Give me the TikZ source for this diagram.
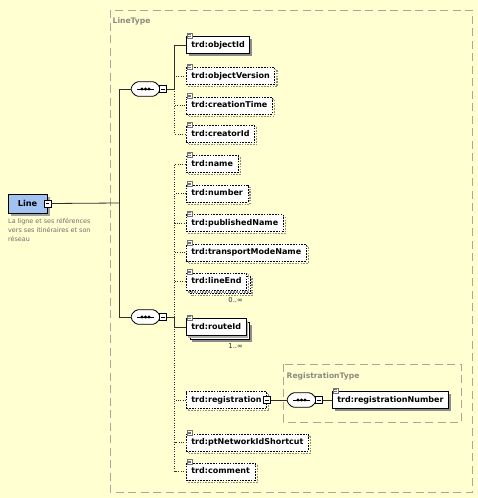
\documentclass[tikz,border=0pt]{standalone}
\usepackage{fontspec}
\setmainfont{DejaVu Sans}
\usetikzlibrary{calc,shadows}
\definecolor{bg}{HTML}{FFFFD2}
\definecolor{grpline}{HTML}{A8A894}
\definecolor{grptext}{HTML}{8A8A80}
\definecolor{lineblue}{HTML}{A2C2F2}
\definecolor{wire}{HTML}{2E2E2E}
\definecolor{shade}{HTML}{8C8C8C}
\definecolor{desc}{HTML}{6E6E68}

\begin{document}
\begin{tikzpicture}[x=1pt,y=-1pt,
  every node/.style={inner sep=0pt},
  elemfont/.style={font=\fontsize{8}{9}\selectfont\bfseries},
  elem/.style={elemfont, draw=black, fill=white, line width=0.8pt, anchor=west,
    minimum height=17pt, inner xsep=5pt, text height=6pt, text depth=1.6pt},
  optdash/.style={dash pattern=on 1.6pt off 1.2pt},
  reqelem/.style={elem,
    general shadow={shadow xshift=2.5pt, shadow yshift=-2.5pt, fill=shade, draw=none}},
  optelem/.style={elem, optdash,
    general shadow={shadow xshift=2.2pt, shadow yshift=-2.2pt, fill=none, draw=shade,
      line width=1.3pt, dash pattern=on 1.6pt off 1.2pt}},
  multopt/.style={elem, optdash,
    general shadow={shadow xshift=5.5pt, shadow yshift=-5.5pt, fill=none, draw=shade,
      line width=1.3pt, dash pattern=on 1.6pt off 1.2pt},
    general shadow={shadow xshift=3.5pt, shadow yshift=-3.5pt, fill=white, draw=black,
      line width=0.8pt, dash pattern=on 1.6pt off 1.2pt},
    general shadow={shadow xshift=2pt, shadow yshift=-2pt, fill=none, draw=shade,
      line width=1.2pt, dash pattern=on 1.6pt off 1.2pt}},
  multreq/.style={elem,
    general shadow={shadow xshift=6pt, shadow yshift=-6pt, fill=shade, draw=none},
    general shadow={shadow xshift=3.5pt, shadow yshift=-3.5pt, fill=white, draw=black,
      line width=0.8pt},
    general shadow={shadow xshift=2pt, shadow yshift=-2pt, fill=shade!70, draw=none}},
  comp/.style={minimum width=28pt, minimum height=14pt},
  expander/.style={draw=black, fill=white, line width=0.6pt, minimum size=7pt,
    path picture={\draw[line width=0.7pt] ([xshift=1.6pt]path picture bounding box.west)
      -- ([xshift=-1.6pt]path picture bounding box.east);}},
  wireline/.style={draw=wire, line width=0.8pt},
  optwire/.style={draw=wire, line width=0.8pt, dash pattern=on 1pt off 1.4pt},
  group/.style={draw=grpline, line width=0.9pt, dash pattern=on 8pt off 4.5pt},
  grouplabel/.style={text=grptext, font=\fontsize{7.6}{9}\selectfont\bfseries, anchor=west},
  occurs/.style={font=\fontsize{6.8}{8}\selectfont, text=black!80},
  icon/.style={draw=black!55, fill=white, line width=0.4pt}
]
\useasboundingbox (0,0) rectangle (478,498);
\fill[bg] (0,0) rectangle (478,498);

% complex type groups
\draw[group] (110,10) rectangle (472,492);
\node[grouplabel] (lineTypeLabel) at (112.5,21) {LineType};
\draw[group] (283,364) rectangle (461,422);
\node[grouplabel] (regTypeLabel) at (286.5,376) {RegistrationType};

% root element
\node[draw=black, fill=lineblue, line width=0.9pt, minimum width=39pt, minimum height=19pt,
  font=\fontsize{8.2}{9}\selectfont\bfseries,
  general shadow={shadow xshift=3pt, shadow yshift=-3pt, fill=shade!80, draw=none}]
  (line) at (27.5,203.5) {Line};
\node[expander] (linex) at (line.east) {};
\node[anchor=north west, align=left, text=desc, font=\fontsize{6.4}{9}\selectfont]
  (linedesc) at (8,218.5) {La ligne et ses références\\vers ses itinéraires et son\\réseau};

% sequence compositors
\node[comp] (seqA) at (145.5,89) {};
\node[comp] (seqB) at (145.5,317) {};
\node[comp] (seqC) at (301.5,400) {};

% child elements
\node[reqelem] (objectId) at (186,45) {trd:objectId};
\node[optelem] (objectVersion) at (186,76) {trd:objectVersion};
\node[optelem] (creationTime) at (186,105.5) {trd:creationTime};
\node[optelem] (creatorId) at (186,134) {trd:creatorId};
\node[optelem] (name) at (186,164) {trd:name};
\node[optelem] (number) at (186,193.5) {trd:number};
\node[optelem] (publishedName) at (186,223) {trd:publishedName};
\node[optelem] (transportModeName) at (186,252.5) {trd:transportModeName};
\node[multopt] (lineEnd) at (186,281.5) {trd:lineEnd};
\node[multreq] (routeId) at (186,327) {trd:routeId};
\node[optelem] (registration) at (186,400) {trd:registration};
\node[optelem] (ptNetworkIdShortcut) at (186,442.5) {trd:ptNetworkIdShortcut};
\node[optelem] (comment) at (186,471.5) {trd:comment};
\node[reqelem] (registrationNumber) at (332,400) {trd:registrationNumber};

\node[occurs, anchor=north east] (lineEndOcc) at (243,297.5) {0..∞};
\node[occurs, anchor=north east] (routeIdOcc) at (243,343) {1..∞};

% compositor bodies: chamfered capsule with the sequence dots
\foreach \cn in {seqA,seqB,seqC} {
  \begin{scope}[shift={(1.6,1.6)}]
    \fill[shade!85, rounded corners=1.5pt]
      ($(\cn.west)+(0,-2.5)$) -- ($(\cn.north west)+(5,0)$) -- ($(\cn.north east)+(-5,0)$)
      -- ($(\cn.east)+(0,-2.5)$) -- ($(\cn.east)+(0,2.5)$) -- ($(\cn.south east)+(-5,0)$)
      -- ($(\cn.south west)+(5,0)$) -- ($(\cn.west)+(0,2.5)$) -- cycle;
  \end{scope}
  \draw[fill=white, line width=0.8pt, rounded corners=1.5pt]
    ($(\cn.west)+(0,-2.5)$) -- ($(\cn.north west)+(5,0)$) -- ($(\cn.north east)+(-5,0)$)
    -- ($(\cn.east)+(0,-2.5)$) -- ($(\cn.east)+(0,2.5)$) -- ($(\cn.south east)+(-5,0)$)
    -- ($(\cn.south west)+(5,0)$) -- ($(\cn.west)+(0,2.5)$) -- cycle;
  \draw[line width=1pt] ($(\cn.center)+(-8.5,0)$) -- ($(\cn.center)+(8.5,0)$);
  \foreach \dx in {-3.5,0,3.5}
    \fill ($(\cn.center)+(\dx,0)$) circle (1.6pt);
}
\node[expander] (seqAx) at ($(seqA.east)+(3.5,0)$) {};
\node[expander] (seqBx) at ($(seqB.east)+(3.5,0)$) {};
\node[expander] (seqCx) at ($(seqC.east)+(3.5,0)$) {};
\node[expander] (regx) at (registration.east) {};

% connectors
\coordinate (m) at (119,203);
\draw[wireline] (linex.east) -- (m);
\draw[wireline] (m) |- (seqA.west);
\draw[wireline] (m) |- (seqB.west);

\coordinate (bA) at (174.5,89);
\draw[wireline] (seqAx.east) -- (bA);
\foreach \n in {objectVersion,creationTime,creatorId}
  \draw[optwire] (bA) |- (\n.west);
\draw[wireline] (bA) |- (objectId.west);

\coordinate (bB) at (174.5,317);
\draw[wireline] (seqBx.east) -- (bB);
\foreach \n in {name,number,publishedName,transportModeName,lineEnd,registration,ptNetworkIdShortcut,comment}
  \draw[optwire] (bB) |- (\n.west);
\draw[wireline] (bB) |- (routeId.west);

\draw[wireline] (regx.east) -- (seqC.west);
\draw[wireline] (seqCx.east) -- (registrationNumber.west);

% simple-content markers on element corners
\foreach \n in {objectId,objectVersion,creationTime,creatorId,name,number,publishedName,
  transportModeName,lineEnd,routeId,ptNetworkIdShortcut,comment,registrationNumber} {
  \draw[icon] ($(\n.north west)+(1.2,-3)$) rectangle ++(4.6,4.6);
  \draw[black!55, line width=0.35pt] ($(\n.north west)+(2.2,-1.7)$) -- ++(2.6,0)
    ($(\n.north west)+(2.2,-0.2)$) -- ++(2.6,0);
}
\end{tikzpicture}
\end{document}
